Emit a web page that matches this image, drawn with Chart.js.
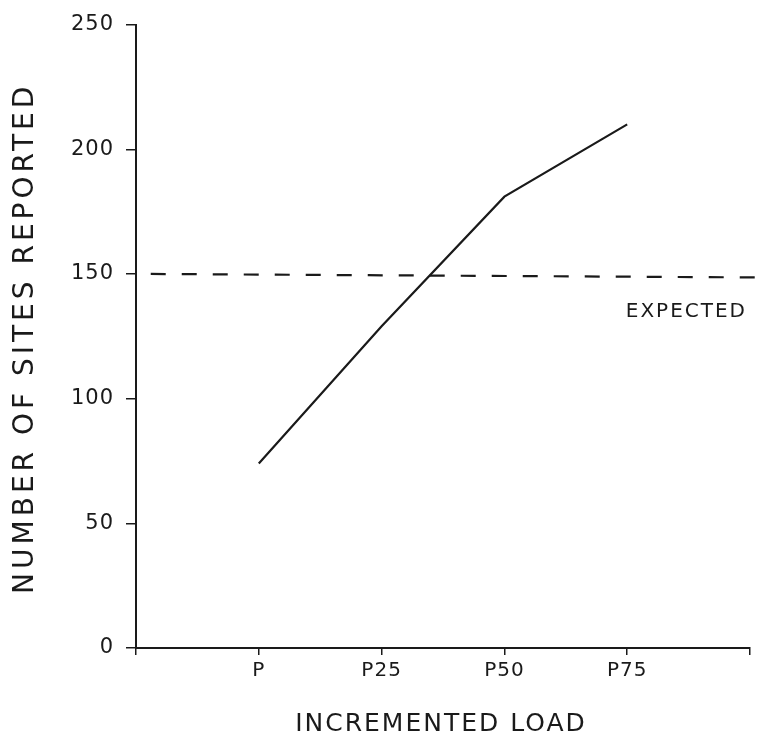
<!DOCTYPE html>
<html>
<head>
<meta charset="utf-8">
<script src="https://cdn.jsdelivr.net/npm/chart.js@4.4.1/dist/chart.umd.min.js"></script>
<style>
  html, body { margin: 0; padding: 0; background: #fff; }
  #wrap { width: 759px; height: 745px; position: relative; }
</style>
</head>
<body>
<div id="wrap"><canvas id="chart"></canvas></div>
<script>
// categories on the x axis (blank ends)
const xLabels = ['', 'P', 'P25', 'P50', 'P75', ''];
// reported sites per load level
const siteX = [1, 2, 3, 4];
const siteValues = [74, 129, 181, 210];
// expected level (dashed line)
const expectedX = [0.12, 5.07];
const expectedY = [150, 148.6];
const yTicks = [0, 50, 100, 150, 200, 250];

const xTitle = 'INCREMENTED LOAD';
const yTitle = 'NUMBER OF SITES REPORTED';
const ink = '#1a1a1a';

// plugin: titres des axes et texte "EXPECTED" avec lettres espacees
const plotterText = {
  id: 'plotterText',
  beforeDraw(chart) {
    chart.ctx.letterSpacing = '1px';
  },
  afterDraw(chart) {
    const ctx = chart.ctx;
    const xs = chart.scales.x, ys = chart.scales.y;
    const area = chart.chartArea;
    ctx.save();
    ctx.fillStyle = ink;
    ctx.textBaseline = 'middle';

    // EXPECTED
    ctx.letterSpacing = '2px';
    ctx.font = '20px "DejaVu Sans"';
    ctx.textAlign = 'right';
    ctx.fillText('EXPECTED', xs.getPixelForValue(5) - 3, ys.getPixelForValue(135));

    // titre axe x
    ctx.letterSpacing = '2px';
    ctx.font = '25px "DejaVu Sans"';
    ctx.textAlign = 'center';
    ctx.fillText(xTitle, (area.left + area.right) / 2 - 2, chart.height - 21);

    // titre axe y
    ctx.letterSpacing = '4px';
    ctx.font = '28px "DejaVu Sans"';
    ctx.translate(26, (area.top + area.bottom) / 2 + 2);
    ctx.rotate(-Math.PI / 2);
    ctx.fillText(yTitle, 0, 0);
    ctx.restore();
  }
};

new Chart(document.getElementById('chart'), {
  type: 'line',
  data: {
    datasets: [{
      label: 'Reported',
      data: siteX.map((x, i) => ({ x: x, y: siteValues[i] })),
      borderColor: ink,
      borderWidth: 2.2,
      pointRadius: 0,
      tension: 0
    }, {
      label: 'Expected',
      data: expectedX.map((x, i) => ({ x: x, y: expectedY[i] })),
      borderColor: ink,
      borderWidth: 2.2,
      borderDash: [15, 16],
      pointRadius: 0,
      clip: false
    }]
  },
  options: {
    responsive: true,
    maintainAspectRatio: false,
    animation: false,
    layout: { padding: { top: 24, right: 9, left: 0, bottom: 0 } },
    plugins: { legend: { display: false }, tooltip: { enabled: false } },
    scales: {
      x: {
        type: 'linear',
        min: 0,
        max: 5,
        afterFit(scale) { scale.height = 97; },
        ticks: {
          stepSize: 1,
          autoSkip: false,
          maxRotation: 0,
          padding: 4,
          color: ink,
          font: { family: 'DejaVu Sans', size: 20 },
          callback: v => xLabels[v]
        },
        grid: { drawOnChartArea: false, drawTicks: true, tickLength: 7, color: ink, lineWidth: 1.5 },
        border: { display: true, color: ink, width: 2 },
        title: { display: false }
      },
      y: {
        min: 0,
        max: 250,
        afterFit(scale) { scale.width = 136; },
        afterBuildTicks(scale) { scale.ticks = yTicks.map(v => ({ value: v })); },
        ticks: {
          padding: 12,
          color: ink,
          font: { family: 'DejaVu Sans', size: 21 }
        },
        grid: { drawOnChartArea: false, drawTicks: true, tickLength: 10, color: ink, lineWidth: 1.5 },
        border: { display: true, color: ink, width: 2 },
        title: { display: false }
      }
    }
  },
  plugins: [plotterText]
});
</script>
</body>
</html>
